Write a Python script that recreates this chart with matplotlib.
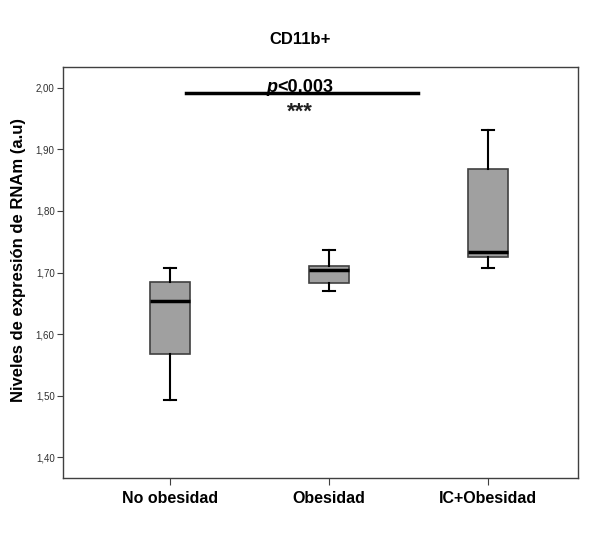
import matplotlib
matplotlib.use("Agg")
import matplotlib.pyplot as plt
from matplotlib.ticker import FixedLocator, FuncFormatter

plt.rcParams['font.family'] = ['Liberation Sans', 'DejaVu Sans']

# Data
groups = ["No obesidad", "Obesidad", "IC+Obesidad"]
whisker_low = [1.493, 1.670, 1.708]
q1 = [1.567, 1.683, 1.725]
median = [1.653, 1.704, 1.734]
q3 = [1.685, 1.711, 1.868]
whisker_high = [1.707, 1.737, 1.932]
y_ticks = [1.40, 1.50, 1.60, 1.70, 1.80, 1.90, 2.00]

stats = []
for i, name in enumerate(groups):
    stats.append({
        "label": name,
        "whislo": whisker_low[i],
        "q1": q1[i],
        "med": median[i],
        "q3": q3[i],
        "whishi": whisker_high[i],
        "fliers": [],
    })

fig = plt.figure(figsize=(6.06, 5.39), dpi=100)
ax = fig.add_axes([63 / 606, 1 - 478 / 539, 515 / 606, 411 / 539])

ax.bxp(
    stats,
    positions=[1, 2, 3],
    widths=0.256,
    patch_artist=True,
    showfliers=False,
    boxprops=dict(facecolor="#a0a0a0", edgecolor="#404040", linewidth=1.2),
    medianprops=dict(color="black", linewidth=2.5),
    whiskerprops=dict(color="black", linewidth=1.5),
    capprops=dict(color="black", linewidth=1.5),
    capwidths=0.07,
)

ax.set_xlim(0.327, 3.566)
ax.set_ylim(1.366, 2.034)
ax.yaxis.set_major_locator(FixedLocator(y_ticks))
ax.yaxis.set_major_formatter(FuncFormatter(lambda v, p: f"{v:.2f}".replace(".", ",")))
ax.tick_params(axis="y", labelsize=7, length=4.5, pad=1.5, color="#404040", labelcolor="#303030")
ax.tick_params(axis="x", labelsize=11.5, length=5, color="#404040", pad=4.5)
for lab in ax.get_xticklabels():
    lab.set_fontweight("bold")
for sp in ax.spines.values():
    sp.set_color("#404040")
    sp.set_linewidth(1.0)

ax.set_ylabel("Niveles de expresión de RNAm (a.u)", fontsize=12, fontweight="bold")
ax.yaxis.set_label_coords(-0.072, 0.53)
fig.text(300 / 606, 1 - 40 / 539, "CD11b+", ha="center", va="center", fontsize=12, fontweight="bold")

# significance bar
ax.plot([1.099, 2.56], [1.992, 1.992], color="black", linewidth=2.5, clip_on=False)
ax.text(1.673, 1.993, "p", ha="right", va="baseline", fontsize=13, fontweight="bold", fontstyle="italic")
ax.text(1.673, 1.993, "<0.003", ha="left", va="baseline", fontsize=13, fontweight="bold")
ax.text(1.818, 1.951, "***", ha="center", va="baseline", fontsize=16, fontweight="bold", color="#202020")

fig.savefig("out.png", dpi=100)
